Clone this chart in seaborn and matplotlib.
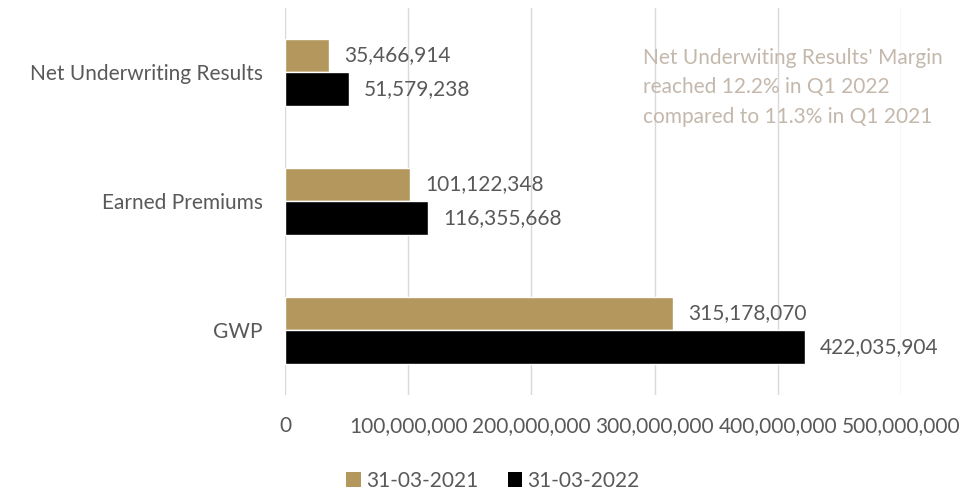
import matplotlib
matplotlib.use("Agg")
import matplotlib.pyplot as plt
import seaborn as sns
import pandas as pd
from matplotlib.ticker import FuncFormatter
from matplotlib.patches import Patch

categories = ["Net Underwriting Results", "Earned Premiums", "GWP"]
periods = ["31-03-2021", "31-03-2022"]
values_2021 = [35466914, 101122348, 315178070]
values_2022 = [51579238, 116355668, 422035904]
x_ticks = [0, 100000000, 200000000, 300000000, 400000000, 500000000]
note = ("Net Underwiting Results' Margin\n"
        "reached 12.2% in Q1 2022\n"
        "compared to 11.3% in Q1 2021")

colors = ["#B3975C", "#000000"]
text_color = "#595959"
fs = 15

df = pd.DataFrame({
    "category": categories * 2,
    "period": [periods[0]] * 3 + [periods[1]] * 3,
    "value": values_2021 + values_2022,
})

sns.set_theme(style="white")
plt.rcParams["font.family"] = ["Lato", "DejaVu Sans"]

fig = plt.figure(figsize=(9.63, 4.91), dpi=100)
ax = fig.add_axes([0.296, 0.196, 0.6395, 0.788])

sns.barplot(data=df, x="value", y="category", hue="period", order=categories,
            hue_order=periods, palette=colors, orient="h", width=0.52,
            saturation=1, legend=False, ax=ax)

ax.set_xlim(0, 500000000)
ax.set_ylim(2.5, -0.5)
ax.set_xticks(x_ticks)
ax.xaxis.set_major_formatter(FuncFormatter(lambda v, p: f"{int(v):,}"))
ax.grid(axis="x", color="#D9D9D9", linewidth=1)
ax.grid(axis="y", visible=False)
ax.set_axisbelow(True)
for s in ax.spines.values():
    s.set_visible(False)
ax.set_xlabel("")
ax.set_ylabel("")
ax.tick_params(axis="x", length=0, pad=15, labelsize=fs, labelcolor=text_color)
ax.tick_params(axis="y", length=0, pad=16, labelsize=fs, labelcolor=text_color)

for cont in ax.containers:
    ax.bar_label(cont, labels=[f"{int(v):,}" for v in cont.datavalues],
                 padding=11, fontsize=fs, color=text_color)

fig.text(0.668, 0.903, note, ha="left", va="top", fontsize=fs,
         color="#C4B8AC", linespacing=1.6)

handles = [Patch(facecolor=c, edgecolor="none") for c in colors]
fig.legend(handles, periods, loc="lower center", bbox_to_anchor=(0.512, -0.038),
           ncol=2, frameon=False, fontsize=fs, handlelength=0.7,
           handleheight=0.7, handletextpad=0.25, columnspacing=1.4,
           labelcolor=text_color)

fig.savefig("out.png", dpi=100)
